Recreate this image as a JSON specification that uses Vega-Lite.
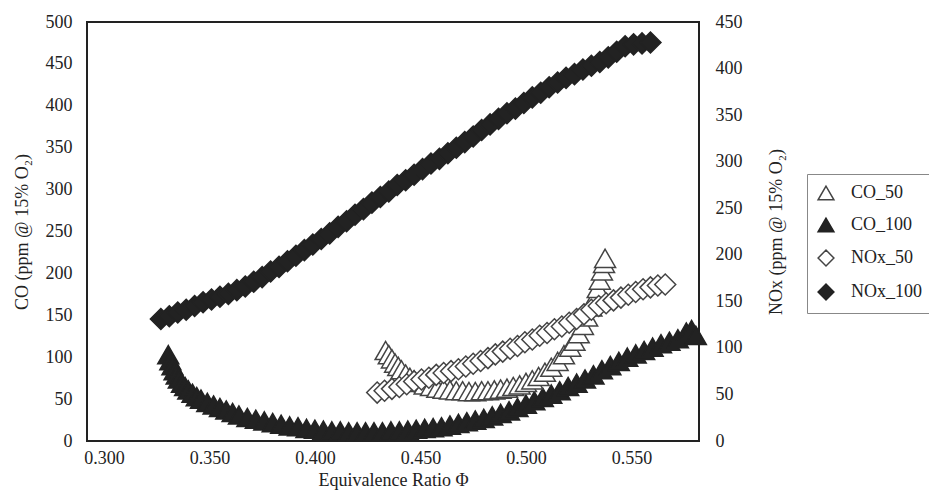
{
  "$schema": "https://vega.github.io/schema/vega-lite/v6.json",
  "width": 612,
  "height": 419,
  "autosize": {"type": "none"},
  "padding": {"left": 87, "top": 22, "right": 230, "bottom": 52},
  "background": "white",
  "config": {
    "font": "Liberation Serif",
    "view": {"stroke": "#222222", "strokeWidth": 2},
    "axis": {
      "labelFont": "Liberation Serif",
      "labelFontSize": 18,
      "labelColor": "#222222",
      "titleFont": "Liberation Serif",
      "titleFontSize": 18,
      "titleFontWeight": "normal",
      "titleColor": "#222222",
      "ticks": false,
      "domain": false,
      "grid": false
    },
    "legend": {
      "labelFont": "Liberation Serif",
      "labelFontSize": 18,
      "labelColor": "#222222"
    }
  },
  "datasets": {
    "co": [
      {"phi": 0.3305, "co": 103, "series": "CO_100"},
      {"phi": 0.3315, "co": 96, "series": "CO_100"},
      {"phi": 0.3325, "co": 90, "series": "CO_100"},
      {"phi": 0.3335, "co": 84, "series": "CO_100"},
      {"phi": 0.3345, "co": 79, "series": "CO_100"},
      {"phi": 0.3355, "co": 74, "series": "CO_100"},
      {"phi": 0.337, "co": 69, "series": "CO_100"},
      {"phi": 0.3385, "co": 65, "series": "CO_100"},
      {"phi": 0.340, "co": 61, "series": "CO_100"},
      {"phi": 0.342, "co": 57, "series": "CO_100"},
      {"phi": 0.344, "co": 53, "series": "CO_100"},
      {"phi": 0.346, "co": 50, "series": "CO_100"},
      {"phi": 0.349, "co": 46, "series": "CO_100"},
      {"phi": 0.352, "co": 43, "series": "CO_100"},
      {"phi": 0.355, "co": 40, "series": "CO_100"},
      {"phi": 0.358, "co": 37, "series": "CO_100"},
      {"phi": 0.361, "co": 34, "series": "CO_100"},
      {"phi": 0.364, "co": 31, "series": "CO_100"},
      {"phi": 0.368, "co": 28, "series": "CO_100"},
      {"phi": 0.372, "co": 26, "series": "CO_100"},
      {"phi": 0.376, "co": 24, "series": "CO_100"},
      {"phi": 0.380, "co": 22, "series": "CO_100"},
      {"phi": 0.384, "co": 20, "series": "CO_100"},
      {"phi": 0.388, "co": 18, "series": "CO_100"},
      {"phi": 0.392, "co": 17, "series": "CO_100"},
      {"phi": 0.396, "co": 15, "series": "CO_100"},
      {"phi": 0.400, "co": 14, "series": "CO_100"},
      {"phi": 0.404, "co": 13, "series": "CO_100"},
      {"phi": 0.408, "co": 12, "series": "CO_100"},
      {"phi": 0.412, "co": 12, "series": "CO_100"},
      {"phi": 0.416, "co": 11, "series": "CO_100"},
      {"phi": 0.420, "co": 11, "series": "CO_100"},
      {"phi": 0.424, "co": 11, "series": "CO_100"},
      {"phi": 0.428, "co": 11, "series": "CO_100"},
      {"phi": 0.432, "co": 11, "series": "CO_100"},
      {"phi": 0.436, "co": 12, "series": "CO_100"},
      {"phi": 0.440, "co": 12, "series": "CO_100"},
      {"phi": 0.444, "co": 13, "series": "CO_100"},
      {"phi": 0.448, "co": 14, "series": "CO_100"},
      {"phi": 0.452, "co": 15, "series": "CO_100"},
      {"phi": 0.456, "co": 16, "series": "CO_100"},
      {"phi": 0.460, "co": 17, "series": "CO_100"},
      {"phi": 0.464, "co": 19, "series": "CO_100"},
      {"phi": 0.468, "co": 21, "series": "CO_100"},
      {"phi": 0.472, "co": 23, "series": "CO_100"},
      {"phi": 0.476, "co": 25, "series": "CO_100"},
      {"phi": 0.480, "co": 27, "series": "CO_100"},
      {"phi": 0.484, "co": 30, "series": "CO_100"},
      {"phi": 0.488, "co": 33, "series": "CO_100"},
      {"phi": 0.492, "co": 36, "series": "CO_100"},
      {"phi": 0.496, "co": 40, "series": "CO_100"},
      {"phi": 0.500, "co": 44, "series": "CO_100"},
      {"phi": 0.504, "co": 48, "series": "CO_100"},
      {"phi": 0.508, "co": 52, "series": "CO_100"},
      {"phi": 0.512, "co": 56, "series": "CO_100"},
      {"phi": 0.516, "co": 60, "series": "CO_100"},
      {"phi": 0.520, "co": 65, "series": "CO_100"},
      {"phi": 0.524, "co": 69, "series": "CO_100"},
      {"phi": 0.528, "co": 74, "series": "CO_100"},
      {"phi": 0.532, "co": 79, "series": "CO_100"},
      {"phi": 0.536, "co": 85, "series": "CO_100"},
      {"phi": 0.540, "co": 90, "series": "CO_100"},
      {"phi": 0.544, "co": 95, "series": "CO_100"},
      {"phi": 0.548, "co": 100, "series": "CO_100"},
      {"phi": 0.552, "co": 104, "series": "CO_100"},
      {"phi": 0.556, "co": 108, "series": "CO_100"},
      {"phi": 0.560, "co": 112, "series": "CO_100"},
      {"phi": 0.564, "co": 116, "series": "CO_100"},
      {"phi": 0.568, "co": 119, "series": "CO_100"},
      {"phi": 0.572, "co": 122, "series": "CO_100"},
      {"phi": 0.576, "co": 130, "series": "CO_100"},
      {"phi": 0.5785, "co": 133, "series": "CO_100"},
      {"phi": 0.5805, "co": 126, "series": "CO_100"},
      {"phi": 0.4335, "co": 108, "series": "CO_50"},
      {"phi": 0.435, "co": 103, "series": "CO_50"},
      {"phi": 0.4365, "co": 98, "series": "CO_50"},
      {"phi": 0.438, "co": 93, "series": "CO_50"},
      {"phi": 0.4395, "co": 89, "series": "CO_50"},
      {"phi": 0.441, "co": 85, "series": "CO_50"},
      {"phi": 0.443, "co": 80, "series": "CO_50"},
      {"phi": 0.445, "co": 76, "series": "CO_50"},
      {"phi": 0.447, "co": 73, "series": "CO_50"},
      {"phi": 0.449, "co": 70, "series": "CO_50"},
      {"phi": 0.452, "co": 67, "series": "CO_50"},
      {"phi": 0.455, "co": 65, "series": "CO_50"},
      {"phi": 0.458, "co": 63, "series": "CO_50"},
      {"phi": 0.461, "co": 62, "series": "CO_50"},
      {"phi": 0.464, "co": 61, "series": "CO_50"},
      {"phi": 0.467, "co": 60, "series": "CO_50"},
      {"phi": 0.470, "co": 60, "series": "CO_50"},
      {"phi": 0.473, "co": 59, "series": "CO_50"},
      {"phi": 0.476, "co": 59, "series": "CO_50"},
      {"phi": 0.479, "co": 60, "series": "CO_50"},
      {"phi": 0.482, "co": 60, "series": "CO_50"},
      {"phi": 0.485, "co": 61, "series": "CO_50"},
      {"phi": 0.488, "co": 62, "series": "CO_50"},
      {"phi": 0.491, "co": 63, "series": "CO_50"},
      {"phi": 0.494, "co": 65, "series": "CO_50"},
      {"phi": 0.497, "co": 67, "series": "CO_50"},
      {"phi": 0.500, "co": 70, "series": "CO_50"},
      {"phi": 0.503, "co": 73, "series": "CO_50"},
      {"phi": 0.506, "co": 77, "series": "CO_50"},
      {"phi": 0.509, "co": 82, "series": "CO_50"},
      {"phi": 0.512, "co": 88, "series": "CO_50"},
      {"phi": 0.515, "co": 95, "series": "CO_50"},
      {"phi": 0.518, "co": 103, "series": "CO_50"},
      {"phi": 0.521, "co": 112, "series": "CO_50"},
      {"phi": 0.523, "co": 119, "series": "CO_50"},
      {"phi": 0.525, "co": 128, "series": "CO_50"},
      {"phi": 0.527, "co": 138, "series": "CO_50"},
      {"phi": 0.529, "co": 148, "series": "CO_50"},
      {"phi": 0.531, "co": 160, "series": "CO_50"},
      {"phi": 0.5325, "co": 170, "series": "CO_50"},
      {"phi": 0.534, "co": 182, "series": "CO_50"},
      {"phi": 0.535, "co": 192, "series": "CO_50"},
      {"phi": 0.536, "co": 203, "series": "CO_50"},
      {"phi": 0.537, "co": 212, "series": "CO_50"},
      {"phi": 0.5375, "co": 218, "series": "CO_50"}
    ],
    "nox": [
      {"phi": 0.4295, "nox": 52, "series": "NOx_50"},
      {"phi": 0.433, "nox": 54, "series": "NOx_50"},
      {"phi": 0.4365, "nox": 56, "series": "NOx_50"},
      {"phi": 0.440, "nox": 58, "series": "NOx_50"},
      {"phi": 0.4435, "nox": 61, "series": "NOx_50"},
      {"phi": 0.447, "nox": 64, "series": "NOx_50"},
      {"phi": 0.4505, "nox": 66, "series": "NOx_50"},
      {"phi": 0.454, "nox": 68, "series": "NOx_50"},
      {"phi": 0.4575, "nox": 71, "series": "NOx_50"},
      {"phi": 0.461, "nox": 73, "series": "NOx_50"},
      {"phi": 0.4645, "nox": 75, "series": "NOx_50"},
      {"phi": 0.468, "nox": 77, "series": "NOx_50"},
      {"phi": 0.4715, "nox": 80, "series": "NOx_50"},
      {"phi": 0.475, "nox": 83, "series": "NOx_50"},
      {"phi": 0.4785, "nox": 86, "series": "NOx_50"},
      {"phi": 0.482, "nox": 89, "series": "NOx_50"},
      {"phi": 0.4855, "nox": 93, "series": "NOx_50"},
      {"phi": 0.489, "nox": 96, "series": "NOx_50"},
      {"phi": 0.4925, "nox": 99, "series": "NOx_50"},
      {"phi": 0.496, "nox": 102, "series": "NOx_50"},
      {"phi": 0.4995, "nox": 106, "series": "NOx_50"},
      {"phi": 0.503, "nox": 109, "series": "NOx_50"},
      {"phi": 0.5065, "nox": 113, "series": "NOx_50"},
      {"phi": 0.510, "nox": 116, "series": "NOx_50"},
      {"phi": 0.5135, "nox": 120, "series": "NOx_50"},
      {"phi": 0.517, "nox": 123, "series": "NOx_50"},
      {"phi": 0.5205, "nox": 127, "series": "NOx_50"},
      {"phi": 0.524, "nox": 131, "series": "NOx_50"},
      {"phi": 0.5275, "nox": 136, "series": "NOx_50"},
      {"phi": 0.531, "nox": 141, "series": "NOx_50"},
      {"phi": 0.5345, "nox": 145, "series": "NOx_50"},
      {"phi": 0.538, "nox": 148, "series": "NOx_50"},
      {"phi": 0.5415, "nox": 151, "series": "NOx_50"},
      {"phi": 0.545, "nox": 154, "series": "NOx_50"},
      {"phi": 0.5485, "nox": 157, "series": "NOx_50"},
      {"phi": 0.552, "nox": 160, "series": "NOx_50"},
      {"phi": 0.5555, "nox": 163, "series": "NOx_50"},
      {"phi": 0.559, "nox": 165, "series": "NOx_50"},
      {"phi": 0.5625, "nox": 167, "series": "NOx_50"},
      {"phi": 0.566, "nox": 168, "series": "NOx_50"},
      {"phi": 0.327, "nox": 131, "series": "NOx_100"},
      {"phi": 0.331, "nox": 134, "series": "NOx_100"},
      {"phi": 0.335, "nox": 138, "series": "NOx_100"},
      {"phi": 0.339, "nox": 141, "series": "NOx_100"},
      {"phi": 0.343, "nox": 145, "series": "NOx_100"},
      {"phi": 0.347, "nox": 149, "series": "NOx_100"},
      {"phi": 0.351, "nox": 152, "series": "NOx_100"},
      {"phi": 0.355, "nox": 155, "series": "NOx_100"},
      {"phi": 0.359, "nox": 158, "series": "NOx_100"},
      {"phi": 0.363, "nox": 162, "series": "NOx_100"},
      {"phi": 0.367, "nox": 166, "series": "NOx_100"},
      {"phi": 0.371, "nox": 171, "series": "NOx_100"},
      {"phi": 0.375, "nox": 176, "series": "NOx_100"},
      {"phi": 0.379, "nox": 182, "series": "NOx_100"},
      {"phi": 0.383, "nox": 187, "series": "NOx_100"},
      {"phi": 0.387, "nox": 193, "series": "NOx_100"},
      {"phi": 0.391, "nox": 199, "series": "NOx_100"},
      {"phi": 0.395, "nox": 205, "series": "NOx_100"},
      {"phi": 0.399, "nox": 211, "series": "NOx_100"},
      {"phi": 0.403, "nox": 217, "series": "NOx_100"},
      {"phi": 0.407, "nox": 223, "series": "NOx_100"},
      {"phi": 0.411, "nox": 230, "series": "NOx_100"},
      {"phi": 0.415, "nox": 236, "series": "NOx_100"},
      {"phi": 0.419, "nox": 243, "series": "NOx_100"},
      {"phi": 0.423, "nox": 249, "series": "NOx_100"},
      {"phi": 0.427, "nox": 256, "series": "NOx_100"},
      {"phi": 0.431, "nox": 262, "series": "NOx_100"},
      {"phi": 0.435, "nox": 268, "series": "NOx_100"},
      {"phi": 0.439, "nox": 275, "series": "NOx_100"},
      {"phi": 0.443, "nox": 280, "series": "NOx_100"},
      {"phi": 0.447, "nox": 286, "series": "NOx_100"},
      {"phi": 0.451, "nox": 292, "series": "NOx_100"},
      {"phi": 0.455, "nox": 298, "series": "NOx_100"},
      {"phi": 0.459, "nox": 303, "series": "NOx_100"},
      {"phi": 0.463, "nox": 309, "series": "NOx_100"},
      {"phi": 0.467, "nox": 315, "series": "NOx_100"},
      {"phi": 0.471, "nox": 321, "series": "NOx_100"},
      {"phi": 0.475, "nox": 327, "series": "NOx_100"},
      {"phi": 0.479, "nox": 334, "series": "NOx_100"},
      {"phi": 0.483, "nox": 340, "series": "NOx_100"},
      {"phi": 0.487, "nox": 346, "series": "NOx_100"},
      {"phi": 0.491, "nox": 352, "series": "NOx_100"},
      {"phi": 0.495, "nox": 357, "series": "NOx_100"},
      {"phi": 0.499, "nox": 363, "series": "NOx_100"},
      {"phi": 0.503, "nox": 369, "series": "NOx_100"},
      {"phi": 0.507, "nox": 374, "series": "NOx_100"},
      {"phi": 0.511, "nox": 380, "series": "NOx_100"},
      {"phi": 0.515, "nox": 385, "series": "NOx_100"},
      {"phi": 0.519, "nox": 390, "series": "NOx_100"},
      {"phi": 0.523, "nox": 394, "series": "NOx_100"},
      {"phi": 0.527, "nox": 399, "series": "NOx_100"},
      {"phi": 0.531, "nox": 403, "series": "NOx_100"},
      {"phi": 0.535, "nox": 407, "series": "NOx_100"},
      {"phi": 0.539, "nox": 412, "series": "NOx_100"},
      {"phi": 0.543, "nox": 418, "series": "NOx_100"},
      {"phi": 0.547, "nox": 424, "series": "NOx_100"},
      {"phi": 0.551, "nox": 426, "series": "NOx_100"},
      {"phi": 0.555, "nox": 427, "series": "NOx_100"},
      {"phi": 0.559, "nox": 428, "series": "NOx_100"}
    ]
  },
  "layer": [
    {
      "data": {"name": "co"},
      "mark": {"type": "point", "filled": true, "size": 440, "strokeWidth": 1.5, "opacity": 1},
      "encoding": {
        "x": {
          "field": "phi", "type": "quantitative",
          "scale": {"domain": [0.292, 0.582], "nice": false, "zero": false},
          "axis": {"values": [0.3, 0.35, 0.4, 0.45, 0.5, 0.55], "format": ".3f", "labelPadding": 8, "title": "Equivalence Ratio Φ", "titlePadding": 4}
        },
        "y": {
          "field": "co", "type": "quantitative",
          "scale": {"domain": [0, 500], "nice": false},
          "axis": {"orient": "left", "values": [0, 50, 100, 150, 200, 250, 300, 350, 400, 450, 500], "labelPadding": 15, "title": "CO (ppm @ 15% O₂)", "titlePadding": 14}
        },
        "shape": {
          "field": "series", "type": "nominal",
          "scale": {"domain": ["CO_50", "CO_100", "NOx_50", "NOx_100"], "range": ["triangle-up", "triangle-up", "diamond", "diamond"]},
          "legend": {"orient": "none", "legendX": 720, "legendY": 152, "title": null, "strokeColor": "#888888", "fillColor": "white", "padding": 10, "symbolSize": 250, "symbolStrokeWidth": 1.5, "labelOffset": 16, "rowPadding": 12, "labelFontSize": 18}
        },
        "fill": {
          "field": "series", "type": "nominal",
          "scale": {"domain": ["CO_50", "CO_100", "NOx_50", "NOx_100"], "range": ["#ffffff", "#222222", "#ffffff", "#222222"]},
          "legend": {"orient": "none", "legendX": 720, "legendY": 152, "title": null, "strokeColor": "#888888", "fillColor": "white", "padding": 10, "symbolSize": 250, "symbolStrokeWidth": 1.5, "labelOffset": 16, "rowPadding": 12, "labelFontSize": 18}
        },
        "stroke": {
          "field": "series", "type": "nominal",
          "scale": {"domain": ["CO_50", "CO_100", "NOx_50", "NOx_100"], "range": ["#444444", "#222222", "#444444", "#222222"]},
          "legend": {"orient": "none", "legendX": 720, "legendY": 152, "title": null, "strokeColor": "#888888", "fillColor": "white", "padding": 10, "symbolSize": 250, "symbolStrokeWidth": 1.5, "labelOffset": 16, "rowPadding": 12, "labelFontSize": 18}
        }
      }
    },
    {
      "data": {"name": "nox"},
      "mark": {"type": "point", "filled": true, "size": 440, "strokeWidth": 1.5, "opacity": 1},
      "encoding": {
        "x": {"field": "phi", "type": "quantitative"},
        "y": {
          "field": "nox", "type": "quantitative",
          "scale": {"domain": [0, 450], "nice": false},
          "axis": {"orient": "right", "values": [0, 50, 100, 150, 200, 250, 300, 350, 400, 450], "labelPadding": 16, "title": "NOx (ppm @ 15% O₂)", "titleAngle": -90, "titlePadding": 43}
        },
        "shape": {"field": "series", "type": "nominal"},
        "fill": {"field": "series", "type": "nominal"},
        "stroke": {"field": "series", "type": "nominal"}
      }
    }
  ],
  "resolve": {"scale": {"y": "independent"}}
}
